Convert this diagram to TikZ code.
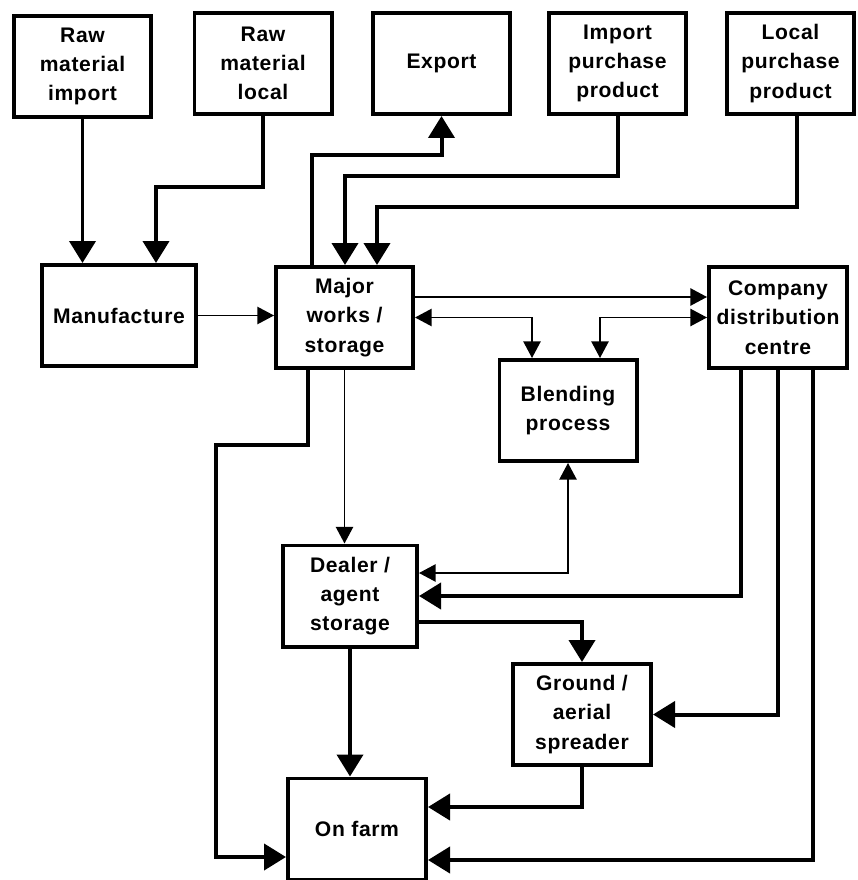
\documentclass[tikz,border=0pt]{standalone}
\usepackage{fontspec}
\setmainfont{Liberation Sans}[LetterSpace=3]
\usepackage{tikz}
\usetikzlibrary{positioning,calc,arrows.meta}
\tikzset{box/.style={draw, line width=3.4pt, minimum width=4.11cm, minimum height=3.03cm, inner sep=0pt, align=center, font=\fontsize{18}{25}\selectfont\bfseries}}
\tikzset{thk/.style={draw, line width=3.4pt, -{Triangle[length=0.66cm,width=0.78cm]}}}
\tikzset{thn/.style={draw, line width=1.3pt, -{Triangle[length=0.5cm,width=0.52cm]}}}
\tikzset{thn2/.style={thn, {Triangle[length=0.5cm,width=0.52cm]}-{Triangle[length=0.5cm,width=0.52cm]}}}

\begin{document}
\begin{tikzpicture}[x=0.03cm, y=-0.03cm]
		\useasboundingbox (0,0) rectangle (857,880);
		\node[box] (rmi) at (82.5,66.5) {Raw\\material\\import};
		\node[box] (rml) at (263,63.5) {Raw\\material\\local};
		\node[box] (exp) at (441.5,63.5) {Export};
		\node[box] (ipp) at (617.5,63.5) {Import\\purchase\\product};
		\node[box, minimum width=3.81cm] (lpp) at (790.5,63.5) {Local\\purchase\\product};
		\node[box, minimum width=4.62cm] (manu) at (119,315.5) {Manufacture};
		\node[box] (maj) at (344.5,317.5) {Major\\works /\\storage};
		\node[box] (blend) at (568,410.5) {Blending\\process};
		\node[box, minimum width=4.14cm] (comp) at (778,317.5) {Company\\distribution\\centre};
		\node[box, minimum width=4.02cm] (deal) at (350,596) {Dealer /\\agent\\storage};
		\node[box, minimum width=4.14cm] (grd) at (582,714.5) {Ground /\\aerial\\spreader};
		\node[box, minimum width=4.14cm] (farm) at (357,829) {On farm};
		% bends
		\coordinate (c1) at (156,187);
		\coordinate (c2) at (312,155);
		\coordinate (c3) at (345,176);
		\coordinate (c4) at (797,207);
		\coordinate (c5) at (0,297);
		\coordinate (c6) at (532,318);
		\coordinate (c7) at (600,318);
		\coordinate (c8) at (308,445);
		\coordinate (c9) at (216,857);
		\coordinate (c10) at (568,573);
		\coordinate (c11) at (741,596);
		\coordinate (c12) at (0,622);
		\coordinate (c14) at (0,807);
		\coordinate (c15) at (813,860);
		% top row
		\draw[thk] (rmi.south) -- (rmi.south |- manu.north);
		\draw[thk] (rml.south) |- (c1) -- (c1 |- manu.north);
		\draw[thk] (c2 |- maj.north) -- (c2) -| (exp.south);
		\draw[thk] (ipp.south) |- (c3) -- (c3 |- maj.north);
		\draw[thk] (c4 |- lpp.south) |- (c4 -| 377,0) -- (377,0 |- maj.north);
		% middle
		\draw[thn] (manu.east) -- (manu.east -| maj.west);
		\draw[thn] (c5 -| maj.east) -- (c5 -| comp.west);
		\draw[thn2] (maj.east) -| (c6 |- blend.north);
		\draw[thn2] (comp.west) -| (c7 |- blend.north);
		\draw[thn] (maj.south) -- (maj.south |- deal.north);
		\draw[thk] (c8 |- maj.south) -- (c8) -| (c9) -- (c9 -| farm.west);
		\draw[thn2] (blend.south) |- (c10 -| deal.east);
		\draw[thk] (c11 |- comp.south) |- (deal.east);
		% lower
		\draw[thk] (c12 -| deal.east) -| (grd.north);
		\draw[thk] (comp.south) |- (grd.east);
		\draw[thk] (deal.south) -- (deal.south |- farm.north);
		\draw[thk] (grd.south) |- (c14 -| farm.east);
		\draw[thk] (c15 |- comp.south) |- (c15 -| farm.east);
	\end{tikzpicture}
\end{document}
